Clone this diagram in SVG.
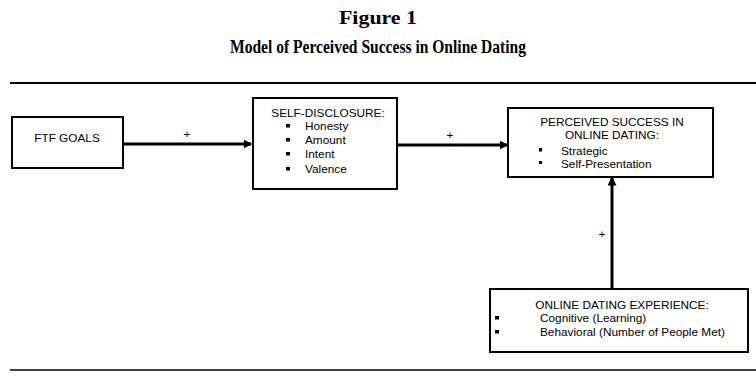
<svg xmlns="http://www.w3.org/2000/svg" width="756" height="377" viewBox="0 0 756 377">
<defs>
<marker id="head" viewBox="0 0 6 6" refX="5" refY="3" markerWidth="3" markerHeight="3" orient="auto" markerUnits="strokeWidth">
<path d="M0,0 L6,3 L0,6 z" fill="#000"/>
</marker>
<style>
.title{font-family:"Liberation Serif",serif;font-weight:bold;font-size:19px;fill:#000;text-anchor:middle}
.t{font-family:"Liberation Sans",Arial,sans-serif;font-size:11.8px;fill:#000}
.c{text-anchor:middle}
.box{fill:#fff;stroke:#000;stroke-width:2}
.edge{stroke:#000;stroke-width:3;fill:none;marker-end:url(#head)}
.rule{stroke:#000;fill:none}
.b{fill:#000}
</style>
</defs>
<rect width="756" height="377" fill="#fff"/>
<text class="title" x="378" y="24" textLength="78" lengthAdjust="spacingAndGlyphs">Figure 1</text>
<text class="title" x="378" y="53" textLength="296" lengthAdjust="spacingAndGlyphs">Model of Perceived Success in Online Dating</text>
<line class="rule" x1="10" y1="83" x2="756" y2="83" stroke-width="2"/>
<line class="rule" x1="10" y1="370" x2="756" y2="370" stroke-width="1.5"/>

<g id="connectors">
<line class="edge" x1="123" y1="144" x2="251" y2="144"/>
<text class="t c" x="187" y="138">+</text>
<line class="edge" x1="397" y1="145" x2="507" y2="145"/>
<text class="t c" x="450" y="139">+</text>
<line class="edge" x1="612" y1="288" x2="612" y2="178"/>
<text class="t c" x="602" y="238">+</text>
</g>

<g id="ftf">
<rect class="box" x="12" y="117" width="111" height="51"/>
<text class="t c" x="67" y="142">FTF GOALS</text>
</g>

<g id="selfdisclosure">
<rect class="box" x="253" y="98" width="144" height="91"/>
<text class="t c" x="328" y="117">SELF-DISCLOSURE:</text>
<rect class="b" x="286" y="124" width="4" height="3.5"/><text class="t" x="305" y="130">Honesty</text>
<rect class="b" x="286" y="138" width="4" height="3.5"/><text class="t" x="305" y="144">Amount</text>
<rect class="b" x="286" y="152" width="4" height="3.5"/><text class="t" x="305" y="158">Intent</text>
<rect class="b" x="286" y="167" width="4" height="3.5"/><text class="t" x="305" y="173">Valence</text>
</g>

<g id="success">
<rect class="box" x="508" y="108" width="205" height="69"/>
<text class="t c" x="612" y="126">PERCEIVED SUCCESS IN</text>
<text class="t c" x="612" y="139">ONLINE DATING:</text>
<rect class="b" x="539" y="148" width="3" height="3.5"/><text class="t" x="561" y="155">Strategic</text>
<rect class="b" x="539" y="161" width="3" height="3"/><text class="t" x="561" y="168">Self-Presentation</text>
</g>

<g id="experience">
<rect class="box" x="490" y="289" width="258" height="63"/>
<text class="t c" x="622" y="309">ONLINE DATING EXPERIENCE:</text>
<rect class="b" x="495" y="316" width="4" height="3.5"/><text class="t" x="540" y="322">Cognitive (Learning)</text>
<rect class="b" x="495" y="330" width="4" height="3.5"/><text class="t" x="540" y="336">Behavioral (Number of People Met)</text>
</g>
</svg>
